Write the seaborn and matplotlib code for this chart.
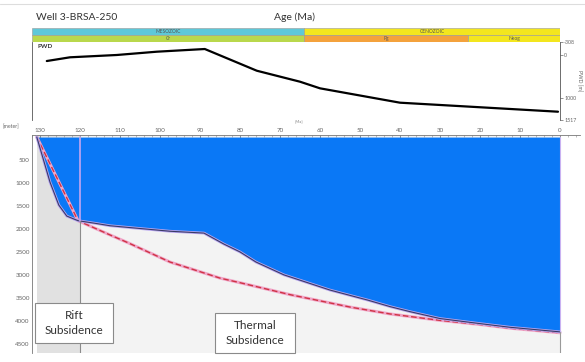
import matplotlib
matplotlib.use('Agg')
import matplotlib.pyplot as plt
from matplotlib.ticker import MultipleLocator, FixedLocator
from matplotlib.lines import Line2D
from matplotlib.patches import Rectangle
import pandas as pd
import seaborn as sns

# Paleo water depth (top panel)
pwd_age = [128.3, 122.5, 110.8, 100.8, 88.8, 75.8, 65, 60, 40, 0.5]
pwd_depth = [137, 50, -4, -81, -144, 364, 621, 776, 1112, 1323]

# Tectonic subsidence curve (solid, blue fill above it)
tect_age = [130.8, 127.5, 125.3, 123.3, 120.5, 116, 112.5, 105, 97.5, 89,
            84, 80, 76, 69, 57.5, 48, 42.5, 37.5, 30, 20, 12.5, 0]
tect_depth = [0, 980, 1480, 1720, 1820, 1880, 1930, 1990, 2050, 2090,
              2330, 2500, 2720, 3000, 3330, 3550, 3690, 3800, 3950, 4060, 4140, 4240]

# Thermal subsidence model (dashed)
therm_age = [130.8, 120.5, 112.5, 108, 97.5, 85, 80, 67.5, 52.5, 42.5, 30, 20, 12.5, 0]
therm_depth = [0, 1820, 2130, 2300, 2720, 3070, 3170, 3430, 3700, 3850, 3990, 4080, 4160, 4260]

# Geological time scale bars
era_names = ['MESOZOIC', 'CENOZOIC']
era_start = [132, 64]
era_end = [64, 0]
era_colors = ['#5ec8d8', '#f3e61e']
period_names = ['Cr', 'Pg', 'Neog']
period_start = [132, 64, 23]
period_end = [64, 23, 0]
period_colors = ['#b9d84c', '#f4a23c', '#f3e61e']

rift_end = 120

sns.set_style('white')
plt.rcParams['font.family'] = ['Lato', 'DejaVu Sans']

W, H = 585, 362
fig = plt.figure(figsize=(W / 100, H / 100), dpi=100)


def px_rect(x0, y0, x1, y1):
    return [x0 / W, 1 - y1 / H, (x1 - x0) / W, (y1 - y0) / H]


# faint frame line on top
fig.add_artist(Line2D([0, 1], [1 - 4 / H, 1 - 4 / H], color='#dddddd', lw=0.8))

fig.text(36 / W, 1 - 17 / H, 'Well 3-BRSA-250', fontsize=7.5, va='center', ha='left', color='#333333')
fig.text(295 / W, 1 - 17 / H, 'Age (Ma)', fontsize=7.5, va='center', ha='center', color='#333333')

# --- time scale bars
ax_bar = fig.add_axes(px_rect(32, 28, 560, 42))
for s, e, c, n in zip(era_start, era_end, era_colors, era_names):
    ax_bar.barh(1, e - s, left=s, height=1, color=c, edgecolor='#999999', linewidth=0.4)
    ax_bar.text((s + e) / 2, 1, n, fontsize=3.5, ha='center', va='center', color='#555555')
for s, e, c, n in zip(period_start, period_end, period_colors, period_names):
    ax_bar.barh(0, e - s, left=s, height=1, color=c, edgecolor='#999999', linewidth=0.4)
    ax_bar.text((s + e) / 2, 0, n, fontsize=3.5, ha='center', va='center', color='#555555')
ax_bar.set_xlim(132, 0)
ax_bar.set_ylim(-0.5, 1.5)
ax_bar.axis('off')

# --- PWD panel
ax_top = fig.add_axes(px_rect(32, 42, 560, 120))
pwd = pd.DataFrame({'age': pwd_age, 'depth': pwd_depth})
sns.lineplot(data=pwd, x='age', y='depth', ax=ax_top, color='black', lw=1.6, sort=False)
ax_top.set_xlim(132, 0)
ax_top.set_ylim(1517, -308)
ax_top.yaxis.tick_right()
ax_top.yaxis.set_label_position('right')
ax_top.set_yticks([-308, 0, 1000, 1517])
ax_top.set_yticklabels(['-308', '0', '1000', '1517'])
ax_top.tick_params(axis='y', labelsize=3.8, colors='#666666', length=2, width=0.5, pad=1)
ax_top.set_xticks([])
ax_top.set_xlabel('')
ax_top.set_ylabel('PWD [m]', fontsize=3.8, color='#666666', rotation=270, labelpad=4)
for side in ['top', 'bottom']:
    ax_top.spines[side].set_visible(False)
for side in ['left', 'right']:
    ax_top.spines[side].set_color('#555555')
    ax_top.spines[side].set_linewidth(0.6)
ax_top.text(130.5, -200, 'PWD', fontsize=4.5, fontweight='bold', va='center', ha='left', color='#333333')

# --- subsidence panel
ax = fig.add_axes(px_rect(32, 135, 580, 353))
ax.axvspan(130.8, 0, color='#f3f3f3', lw=0, zorder=0)
ax.axvspan(130.8, rift_end, color='#e1e1e1', lw=0, zorder=0)
ax.fill_between(tect_age, 0, tect_depth, color='#0a78f6', lw=0, zorder=1)

tect = pd.DataFrame({'age': tect_age, 'depth': tect_depth})
therm = pd.DataFrame({'age': therm_age, 'depth': therm_depth})
sns.lineplot(data=therm, x='age', y='depth', ax=ax, color='#f0a6c8', lw=2.2, sort=False, zorder=2)
sns.lineplot(data=therm, x='age', y='depth', ax=ax, color='#cf3345', lw=1.0, sort=False,
             zorder=3).lines[-1].set_dashes([4, 2])
sns.lineplot(data=tect, x='age', y='depth', ax=ax, color='#b7a6f0', lw=2.0, sort=False, zorder=4)
sns.lineplot(data=tect, x='age', y='depth', ax=ax, color='#3a3a66', lw=0.8, sort=False, zorder=5)

ax.plot([rift_end, rift_end], [0, 1820], color='#c3a6f0', lw=1.2, zorder=6)
ax.plot([rift_end, rift_end], [1820, 4700], color='#8c8c8c', lw=0.8, zorder=6)
ax.plot([0, 0], [0, 4240], color='#c9b2f2', lw=0.8, zorder=6)
ax.plot([0, 0], [4240, 4700], color='#9a9a9a', lw=0.8, zorder=6)

ax.set_xlim(132, -5)
ax.set_ylim(4700, -45)
ax.xaxis.tick_top()
ax.xaxis.set_major_locator(FixedLocator(list(range(130, -1, -10))))
ax.xaxis.set_minor_locator(MultipleLocator(2))
ax.yaxis.set_major_locator(FixedLocator(list(range(500, 4501, 500))))
ax.yaxis.set_minor_locator(MultipleLocator(100))
ax.tick_params(axis='both', which='major', labelsize=4.5, colors='#666666', length=3, width=0.5, pad=1.5)
ax.tick_params(axis='both', which='minor', colors='#888888', length=1.5, width=0.4)
ax.tick_params(axis='x', which='both', direction='in')
ax.tick_params(axis='y', which='both', direction='in')
ax.set_xlabel('')
ax.set_ylabel('')
for side in ['right', 'bottom']:
    ax.spines[side].set_visible(False)
for side in ['left', 'top']:
    ax.spines[side].set_color('#777777')
    ax.spines[side].set_linewidth(0.6)

fig.text(11 / W, 1 - 127 / H, '[meter]', fontsize=3.8, color='#666666', ha='center', va='center')
fig.text(299 / W, 1 - 121 / H, '[Ma]', fontsize=3, color='#888888', ha='center', va='center')

# annotation boxes (pixel layout)
for (x0, y0, x1, y1), label in [((35, 303, 113, 343), 'Rift\nSubsidence'),
                                ((215, 313, 295, 353), 'Thermal\nSubsidence')]:
    fig.add_artist(Rectangle((x0 / W, 1 - y1 / H), (x1 - x0) / W, (y1 - y0) / H,
                             transform=fig.transFigure, facecolor='white',
                             edgecolor='#8a8a8a', lw=0.8, zorder=8))
    fig.text((x0 + x1) / 2 / W, 1 - (y0 + y1) / 2 / H, label, fontsize=8.5, color='#333333',
             ha='center', va='center', linespacing=1.35, zorder=9)

fig.savefig('out.png', dpi=100)
